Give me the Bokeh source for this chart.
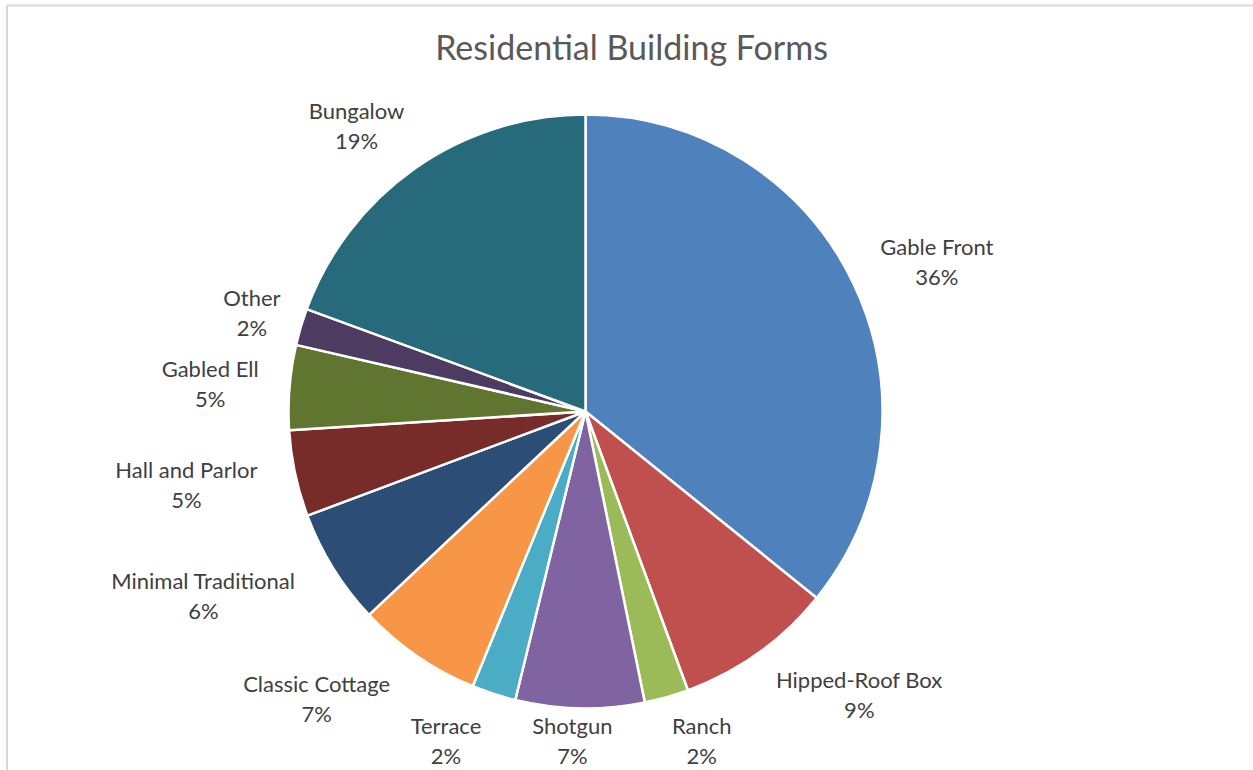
import math
from bokeh.plotting import figure
from bokeh.models import Range1d
from bokeh.embed import file_html
from bokeh.resources import INLINE
from bokeh.core.properties import value

# ---- data ----
title_text = "Residential Building Forms"
categories = ["Gable Front", "Hipped-Roof Box", "Ranch", "Shotgun", "Terrace",
              "Classic Cottage", "Minimal Traditional", "Hall and Parlor",
              "Gabled Ell", "Other", "Bungalow"]
shares = [35.8, 8.6, 2.4, 7.0, 2.4, 6.8, 6.3, 4.7, 4.6, 2.0, 19.4]
colors = ["#4F81BD", "#C0504D", "#9BBB59", "#8064A2", "#4BACC6",
          "#F79646", "#2C4D75", "#772C2A", "#5F7530", "#4D3B62", "#276A7C"]

# ---- layout / style ----
W, H = 1253, 770
CX, CY, R = 585, 411, 297          # pie centre / radius in screen pixels
GAP = 20
FONT = "Lato"
LABEL_SIZE = 22
TITLE_SIZE = 34

def sy(screen_y):
    return H - screen_y

p = figure(width=W, height=H, x_range=Range1d(0, W), y_range=Range1d(0, H),
           output_backend="svg", toolbar_location=None, min_border=0)
p.axis.visible = False
p.grid.visible = False
p.outline_line_color = None
p.background_fill_color = "white"
p.border_fill_color = "white"

# chart-area border (light gray, top and left visible)
p.quad(left=[6.5], right=[W + 50], top=[sy(5)], bottom=[-50],
       fill_color=None, line_color="#D9D9D9", line_width=2)

total = sum(shares)
starts, ends, mids = [], [], []
cum = 0.0
for v in shares:
    a0 = 2 * math.pi * cum / total
    cum += v
    a1 = 2 * math.pi * cum / total
    starts.append(math.pi / 2 - a0)
    ends.append(math.pi / 2 - a1)
    mids.append((a0 + a1) / 2)

p.wedge(x=CX, y=sy(CY), radius=R, start_angle=starts, end_angle=ends,
        direction="clock", fill_color=colors, line_color="white", line_width=2.5)

# data labels (category + percentage), placed outside each slice
name_x, name_y, pct_y, pct_txt = [], [], [], []
for cat, v, th in zip(categories, shares, mids):
    pct = f"{int(math.floor(100 * v / total + 0.5))}%"
    ux, uy = math.sin(th), -math.cos(th)
    ax = CX + (R + GAP) * ux
    ay = CY + (R + GAP) * uy
    half_w = 10.8 * max(len(cat), len(pct)) / 2
    half_h = 25
    fx = max(-1.1, min(1.1, ux * 10))
    fy = max(-1.1, min(1.1, uy * 1.25))
    bx = ax + fx * half_w
    by = min(ay + fy * half_h, 740)
    name_x.append(bx)
    name_y.append(sy(by - 15))
    pct_y.append(sy(by + 15))
    pct_txt.append(pct)

p.text(x=name_x, y=name_y, text=categories, text_align="center",
       text_baseline="middle", text_font=value(FONT),
       text_font_size=f"{LABEL_SIZE}px", text_color="#404040")
p.text(x=name_x, y=pct_y, text=pct_txt, text_align="center",
       text_baseline="middle", text_font=value(FONT),
       text_font_size=f"{LABEL_SIZE}px", text_color="#404040")

# title
p.text(x=[631], y=[sy(46)], text=[title_text], text_align="center",
       text_baseline="middle", text_font=value(FONT),
       text_font_size=f"{TITLE_SIZE}px", text_color="#595959")

open("out.html", "w").write(file_html(p, INLINE))
